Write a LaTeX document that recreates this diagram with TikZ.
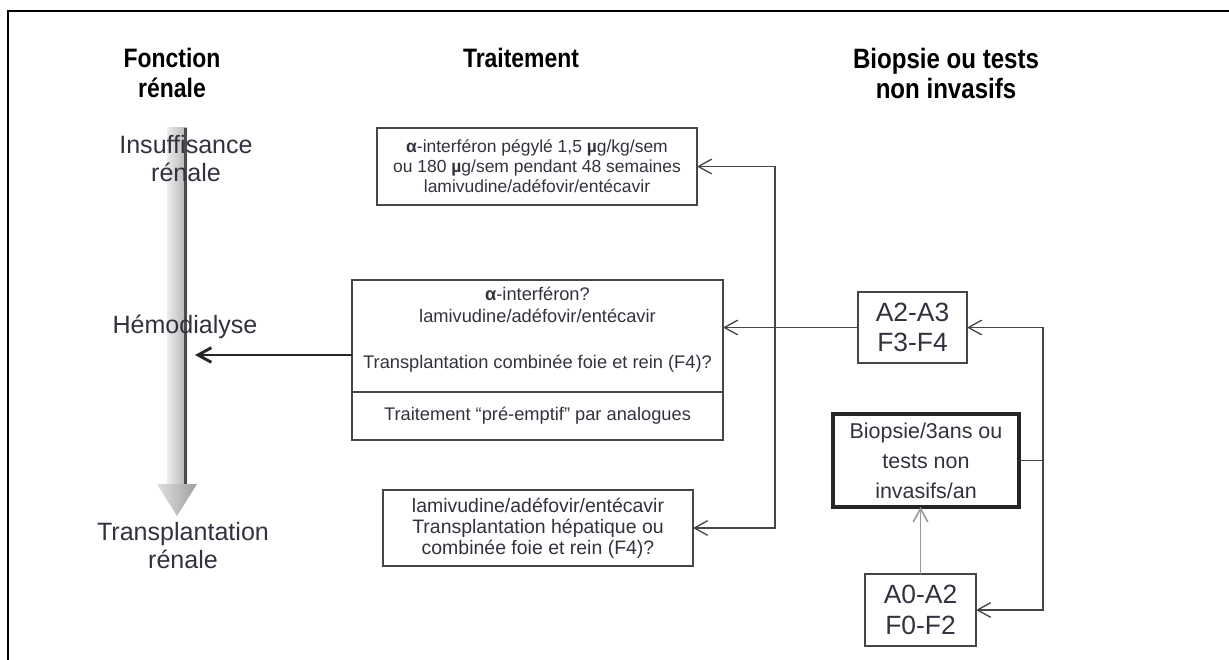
\documentclass[tikz,border=0pt]{standalone}
\usepackage{fontspec}
\setmainfont{Liberation Sans}
\newfontfamily\headfont[FakeStretch=0.86]{Liberation Sans Bold}
\usepackage{tikz}
\usepackage{xcolor}
\usetikzlibrary{arrows.meta,positioning,calc}
\definecolor{txtcol}{RGB}{50,50,62}
\definecolor{linecol}{RGB}{70,70,70}

\begin{document}
\begin{tikzpicture}[x=0.75pt,y=-0.75pt,
  head/.style={font=\headfont\fontsize{20}{22.5}\selectfont,align=center,text=black},
  lbl/.style={font=\fontsize{18.8}{21}\selectfont,align=center,text=txtcol},
  box/.style={draw=linecol,line width=1pt,outer sep=0pt,inner sep=0pt,align=center,text=txtcol},
  thickbox/.style={box,draw=black!85,line width=2.6pt},
  conn/.style={draw=linecol,line width=1pt},
  tip/.style={-{Straight Barb[length=10pt,width=11pt]}}]
\useasboundingbox (0,0) rectangle (1229,660);
\draw[line width=1.5pt] (8,660) -- (8,11) -- (1229,11);
\node[head] (hfonc) at (172,73) {Fonction\\rénale};
\node[head] (htrait) at (521,58) {Traitement};
\node[head,font=\headfont\fontsize{21}{22.5}\selectfont] (hbiop) at (946,73) {Biopsie ou tests\\non invasifs};
\shade[left color=gray!15,right color=gray!60] (167,128) rectangle (187,485);
\fill[black!70] (184,128) rectangle (187,485);
\shade[left color=gray!25,right color=gray!75] (157,484) -- (197,484) -- (177,516) -- cycle;
\node[lbl] (insuf) at (186,159) {Insuffisance\\rénale};
\node[lbl] (hemo) at (185,327) {Hémodialyse};
\node[lbl] (transp) at (183,546) {Transplantation\\rénale};
\node[box,minimum width=240pt,minimum height=57.75pt,font=\fontsize{13.1}{15}\selectfont] (interf) at (537,166.5)
  {{\bfseries α}-interféron pégylé 1,5 {\bfseries µ}g/kg/sem\\ou 180 {\bfseries µ}g/sem pendant 48 semaines\\lamivudine/adéfovir/entécavir};
\node[box,minimum width=278.25pt,minimum height=84pt,text depth=13pt,font=\fontsize{13.7}{17}\selectfont] (combi) at (537.5,336)
  {{\bfseries α}-interféron?\\lamivudine/adéfovir/entécavir\\[17pt]Transplantation combinée foie et rein (F4)?};
\node[box,minimum width=278.25pt,minimum height=36pt,font=\fontsize{13.7}{17}\selectfont,below=0pt of combi] (preemp)
  {Traitement “pré-emptif” par analogues};
\node[box,minimum width=232.5pt,minimum height=57pt,font=\fontsize{14.6}{15.75}\selectfont] (hepat) at (538,528)
  {lamivudine/adéfovir/entécavir\\Transplantation hépatique ou\\combinée foie et rein (F4)?};
\node[box,minimum width=81.75pt,minimum height=53.25pt,font=\fontsize{19.8}{23}\selectfont] (severe) at (912.5,327.5) {A2-A3\\F3-F4};
\node[thickbox,minimum width=139.5pt,minimum height=69.75pt,font=\fontsize{16.1}{22.5}\selectfont] (suivi) at (926,460.5)
  {Biopsie/3ans ou\\tests non\\invasifs/an};
\node[box,minimum width=83.25pt,minimum height=54pt,font=\fontsize{19.8}{23}\selectfont] (leger) at (920.5,610) {A0-A2\\F0-F2};
\coordinate (rj) at (1043,460.5);
\coordinate (lj) at (775,327.5);
\coordinate (hd) at (195,355);
\draw[conn] (suivi.east) -- (rj);
\draw[conn,tip] (rj) |- (severe.east);
\draw[conn,tip] (rj) |- (leger.east);
\draw[conn,draw=gray!80,line width=1.2pt,tip] (leger.north) -- (leger.north |- suivi.south);
\draw[conn,tip] (severe.west) -- (combi.east |- severe.west);
\draw[conn,tip] (lj) |- (interf.east);
\draw[conn,tip] (lj) |- (hepat.east);
\draw[conn,line width=2.2pt,draw=black!85,tip] (combi.west |- hd) -- (hd);
\end{tikzpicture}
\end{document}
